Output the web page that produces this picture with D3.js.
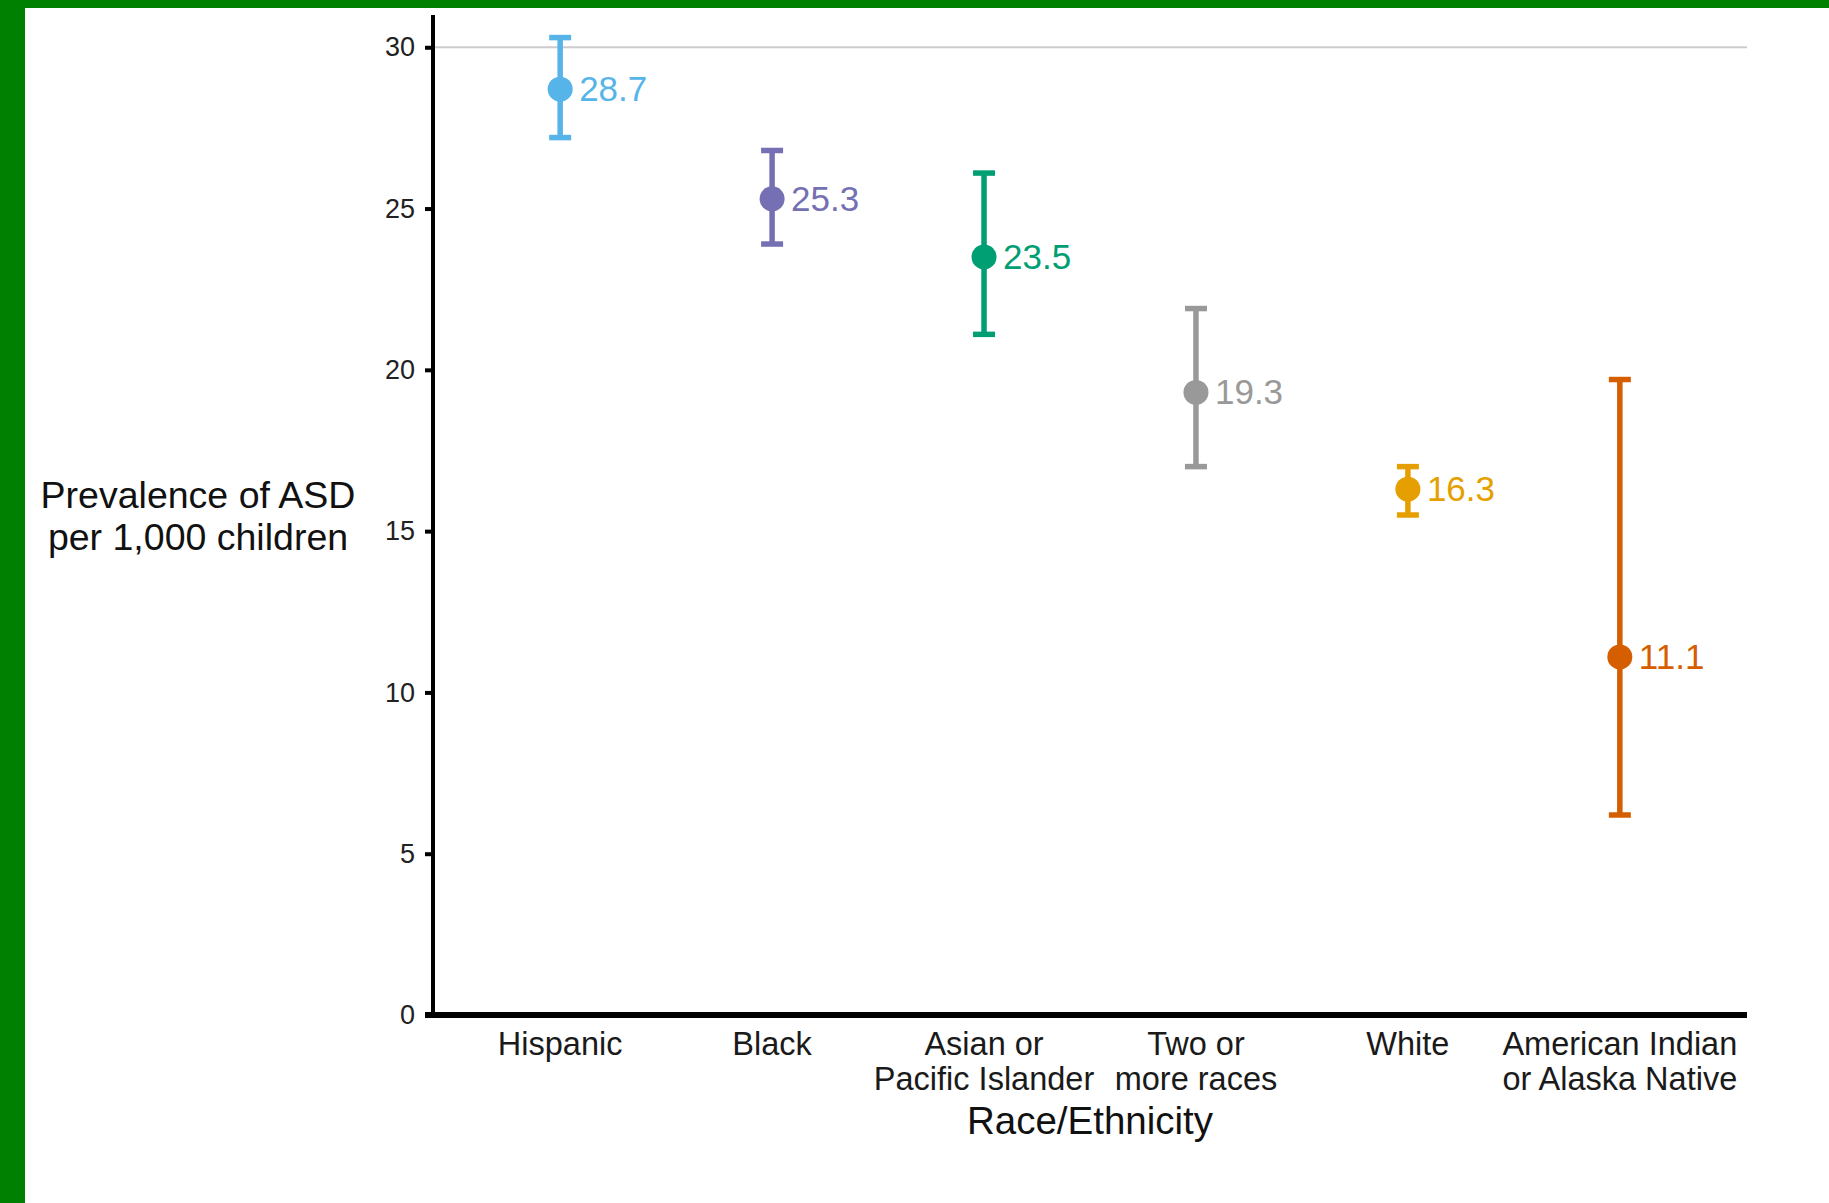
<!DOCTYPE html>
<html>
<head>
<meta charset="utf-8">
<script src="https://cdn.jsdelivr.net/npm/d3@7"></script>
<style>
  html, body { margin: 0; padding: 0; background: #ffffff; }
  svg { display: block; }
  text { font-family: "Liberation Sans", Arial, sans-serif; }
</style>
</head>
<body>
<svg id="chart" width="1829" height="1203"></svg>
<script>
// ---- data ----
const categories = ["Hispanic", "Black", "Asian or Pacific Islander", "Two or more races", "White", "American Indian or Alaska Native"];
const categoryLines = [["Hispanic"], ["Black"], ["Asian or", "Pacific Islander"], ["Two or", "more races"], ["White"], ["American Indian", "or Alaska Native"]];
const prevalence = [28.7, 25.3, 23.5, 19.3, 16.3, 11.1];
const lowerCI = [27.2, 23.9, 21.1, 17.0, 15.5, 6.2];
const upperCI = [30.3, 26.8, 26.1, 21.9, 17.0, 19.7];
const colors = ["#56B4E9", "#7570B3", "#009E73", "#999999", "#E69F00", "#D55E00"];
const yTicks = [0, 5, 10, 15, 20, 25, 30];
const yTitleLines = ["Prevalence of ASD", "per 1,000 children"];
const xTitle = "Race/Ethnicity";

(function () {
const rows = categories.map((c, i) => ({
  cat: c, lines: categoryLines[i], v: prevalence[i], lo: lowerCI[i], hi: upperCI[i], color: colors[i]
}));

const svg = d3.select("#chart");
const W = 1829, H = 1203;

// green frame (left and top)
svg.append("rect").attr("x", 0).attr("y", 0).attr("width", W).attr("height", H).attr("fill", "#ffffff");
svg.append("rect").attr("x", 0).attr("y", 0).attr("width", 25).attr("height", H).attr("fill", "#008000");
svg.append("rect").attr("x", 0).attr("y", 0).attr("width", W).attr("height", 8).attr("fill", "#008000");

const pLeft = 433, pRight = 1747, pTop = 15, pBottom = 1015;

const x = d3.scalePoint().domain(categories).range([pLeft, pRight]).padding(0.6);
const y = d3.scaleLinear().domain([0, 31]).range([pBottom, pTop]);

// gridline at 30
svg.append("line")
  .attr("x1", pLeft).attr("x2", pRight)
  .attr("y1", y(30)).attr("y2", y(30))
  .attr("stroke", "#cccccc").attr("stroke-width", 2);

// y axis
const yAxis = svg.append("g").attr("transform", `translate(${pLeft},0)`)
  .call(d3.axisLeft(y).tickValues(yTicks).tickSize(8).tickPadding(10).tickFormat(d3.format("d")));
yAxis.select(".domain").remove();
yAxis.selectAll(".tick line").attr("stroke", "#000").attr("stroke-width", 4);
yAxis.selectAll(".tick text").attr("font-size", 27).attr("fill", "#222")
  .attr("font-family", "Liberation Sans, Arial, sans-serif");
svg.append("line").attr("x1", pLeft).attr("x2", pLeft).attr("y1", pTop).attr("y2", pBottom + 2)
  .attr("stroke", "#000").attr("stroke-width", 4);

// x axis
const xAxis = svg.append("g").attr("transform", `translate(0,${pBottom})`)
  .call(d3.axisBottom(x).tickSize(0).tickFormat(""));
xAxis.select(".domain").remove();
svg.append("line").attr("x1", pLeft - 8).attr("x2", pRight).attr("y1", pBottom).attr("y2", pBottom)
  .attr("stroke", "#000").attr("stroke-width", 6);

// category labels
const catLabels = svg.append("g");
rows.forEach(r => {
  const t = catLabels.append("text")
    .attr("x", x(r.cat)).attr("y", pBottom + 40)
    .attr("text-anchor", "middle").attr("font-size", 32.5).attr("fill", "#1a1a1a");
  r.lines.forEach((ln, k) => {
    t.append("tspan").attr("x", x(r.cat)).attr("dy", k === 0 ? 0 : 35).text(ln);
  });
});

// axis titles
svg.append("text").attr("x", (pLeft + pRight) / 2).attr("y", 1134)
  .attr("text-anchor", "middle").attr("font-size", 38.5).attr("fill", "#111").text(xTitle);
const yt = svg.append("text").attr("x", 198).attr("y", 508)
  .attr("text-anchor", "middle").attr("font-size", 37.5).attr("fill", "#111");
yTitleLines.forEach((ln, k) => {
  yt.append("tspan").attr("x", 198).attr("dy", k === 0 ? 0 : 42).text(ln);
});

// error bars, points and labels
const g = svg.append("g");
const capW = 22;
const pts = g.selectAll("g.pt").data(rows).join("g").attr("class", "pt");
pts.append("line")
  .attr("x1", d => x(d.cat)).attr("x2", d => x(d.cat))
  .attr("y1", d => y(d.lo)).attr("y2", d => y(d.hi))
  .attr("stroke", d => d.color).attr("stroke-width", 5.5);
pts.append("line")
  .attr("x1", d => x(d.cat) - capW / 2).attr("x2", d => x(d.cat) + capW / 2)
  .attr("y1", d => y(d.hi)).attr("y2", d => y(d.hi))
  .attr("stroke", d => d.color).attr("stroke-width", 5.5);
pts.append("line")
  .attr("x1", d => x(d.cat) - capW / 2).attr("x2", d => x(d.cat) + capW / 2)
  .attr("y1", d => y(d.lo)).attr("y2", d => y(d.lo))
  .attr("stroke", d => d.color).attr("stroke-width", 5.5);
pts.append("circle")
  .attr("cx", d => x(d.cat)).attr("cy", d => y(d.v)).attr("r", 12.5)
  .attr("fill", d => d.color);
pts.append("text")
  .attr("x", d => x(d.cat) + 19).attr("y", d => y(d.v) + 12)
  .attr("font-size", 35).attr("fill", d => d.color)
  .text(d => d3.format(".1f")(d.v));
})();
</script>
</body>
</html>
